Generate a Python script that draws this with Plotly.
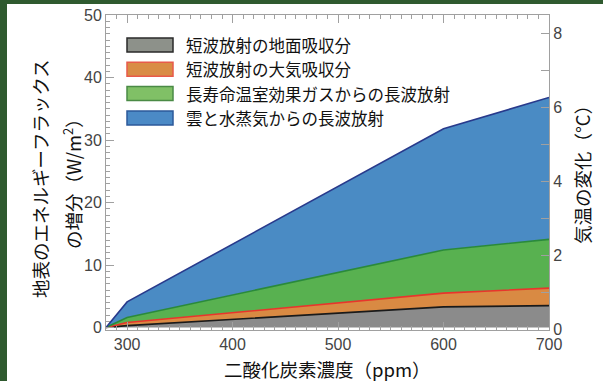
import plotly.graph_objects as go

# ---- data ----
co2_ppm = [280, 300, 600, 700]
ground_sw = [0.0, 0.3, 3.3, 3.5]        # 短波放射の地面吸収分
atm_sw = [0.0, 0.5, 2.2, 2.8]           # 短波放射の大気吸収分
ghg_lw = [0.0, 0.8, 6.9, 7.8]           # 長寿命温室効果ガスからの長波放射
cloud_wv_lw = [0.0, 2.5, 19.4, 22.7]    # 雲と水蒸気からの長波放射

series_names = ["短波放射の地面吸収分", "短波放射の大気吸収分",
                "長寿命温室効果ガスからの長波放射", "雲と水蒸気からの長波放射"]
x_ticks = [300, 400, 500, 600, 700]
y_ticks = [0, 10, 20, 30, 40, 50]
t_ticks = [0, 2, 4, 6, 8]

fill_colors = ["#8b8b8b", "#d98a43", "#58b150", "#4a8bc4"]
line_colors = ["#1a1a1a", "#e8352c", "#2a8a3a", "#283a8c"]
swatch_fill = ["#8d918a", "#d98c45", "#80c066", "#4b8ac6"]
swatch_line = ["#2a2a2a", "#e85a4a", "#4a8a45", "#2d5a9a"]

JP = "Noto Sans CJK JP"
NUM = "Liberation Sans, Arial, sans-serif"

fig = go.Figure()
for vals, name, fc, lc in zip([ground_sw, atm_sw, ghg_lw, cloud_wv_lw],
                              series_names, fill_colors, line_colors):
    fig.add_trace(go.Scatter(
        x=co2_ppm, y=vals, name=name, stackgroup="one", mode="lines",
        line=dict(color=lc, width=1.6), fillcolor=fc, showlegend=False,
    ))
# empty trace to activate the temperature axis
fig.add_trace(go.Scatter(x=co2_ppm, y=[None] * len(co2_ppm), yaxis="y2",
                         mode="lines", showlegend=False, hoverinfo="skip"))

# custom legend
L, R, T, B = 106, 549, 15, 330
W, H = R - L, B - T
def px(x):
    return (x - L) / W
def py(y):
    return (B - y) / H

shapes = []
annotations = []
for i, name in enumerate(series_names):
    yc = 45 + i * 24.3
    shapes.append(dict(type="rect", xref="paper", yref="paper",
                       x0=px(127), x1=px(173), y0=py(yc + 7), y1=py(yc - 7),
                       fillcolor=swatch_fill[i], line=dict(color=swatch_line[i], width=1.5)))
    annotations.append(dict(text=name, xref="paper", yref="paper", x=px(184), y=py(yc),
                            xanchor="left", yanchor="middle", showarrow=False,
                            font=dict(family=JP, size=16.5, color="#111")))

# green frame strips
shapes.append(dict(type="rect", xref="paper", yref="paper", x0=px(0), x1=px(7),
                   y0=py(381), y1=py(0), fillcolor="#2f5a2f", line=dict(width=0), layer="above"))
shapes.append(dict(type="rect", xref="paper", yref="paper", x0=px(0), x1=px(603),
                   y0=py(4), y1=py(0), fillcolor="#2f5a2f", line=dict(width=0), layer="above"))

# axis titles
annotations.append(dict(text="地表のエネルギーフラックス", xref="paper", yref="paper",
                        x=px(40), y=py(179), textangle=-90, showarrow=False,
                        xanchor="center", yanchor="middle",
                        font=dict(family=JP, size=18.5, color="#111")))
annotations.append(dict(text="の増分（W/m<sup>2</sup>）", xref="paper", yref="paper",
                        x=px(72), y=py(179), textangle=-90, showarrow=False,
                        xanchor="center", yanchor="middle",
                        font=dict(family=JP, size=18.5, color="#111")))
annotations.append(dict(text="気温の変化（°C）", xref="paper", yref="paper",
                        x=px(582), y=py(170), textangle=-90, showarrow=False,
                        xanchor="center", yanchor="middle",
                        font=dict(family=JP, size=18.5, color="#111")))
annotations.append(dict(text="二酸化炭素濃度（ppm）", xref="paper", yref="paper",
                        x=px(327), y=py(369), showarrow=False,
                        xanchor="center", yanchor="middle",
                        font=dict(family=JP, size=18.5, color="#111")))

axis_line = "#a0a0a0"
fig.update_layout(
    width=603, height=381,
    margin=dict(l=L, r=603 - R, t=T, b=381 - B, autoexpand=False),
    paper_bgcolor="white", plot_bgcolor="white",
    shapes=shapes, annotations=annotations,
    xaxis=dict(range=[280, 700], tickvals=x_ticks, ticks="inside", ticklen=8,
               tickcolor=axis_line, showline=True, linecolor=axis_line, linewidth=1,
               mirror="ticks", showgrid=False, zeroline=False,
               tickfont=dict(family=NUM, size=16, color="#444"),
               minor=dict(dtick=10, ticks="inside", ticklen=4, tickcolor=axis_line, showgrid=False)),
    yaxis=dict(range=[-0.4, 50], tickvals=y_ticks, ticks="inside", ticklen=8,
               tickcolor=axis_line, showline=True, linecolor=axis_line, linewidth=1,
               showgrid=False, zeroline=False,
               tickfont=dict(family=NUM, size=16, color="#444"),
               minor=dict(dtick=1, ticks="inside", ticklen=4, tickcolor=axis_line, showgrid=False)),
    yaxis2=dict(range=[-0.02, 8.5], tickvals=t_ticks, overlaying="y", side="right",
                anchor="x", ticks="inside", ticklen=8, tickcolor=axis_line,
                showline=True, linecolor=axis_line, linewidth=1, showgrid=False, zeroline=False,
                tickfont=dict(family=NUM, size=16, color="#444"),
                minor=dict(dtick=1, ticks="inside", ticklen=8, tickcolor=axis_line, showgrid=False)),
)

fig.write_html("out.html", config={"displayModeBar": False},
               post_script="document.body.style.margin='0';document.body.style.padding='0';")
